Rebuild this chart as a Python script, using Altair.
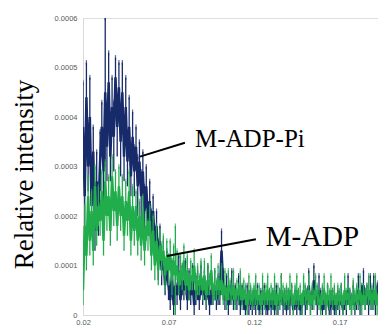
import altair as alt
import pandas as pd

# x positions (scattering vector), step 0.001 from 0.020 to 0.195
x_start = 0.020
x_step = 0.001

# values in units of 1e-5
adp_pi = [38, 24, 44, 30, 40, 22, 33, 17, 27, 21,
          31, 38, 29, 45, 34, 47, 32, 42, 36, 48,
          38, 46, 35, 45, 32, 42, 31, 38, 28, 36,
          29, 34, 26, 31, 24, 29, 21, 26, 19, 23,
          17, 21, 14, 18, 11, 15, 9, 12, 6, 10,
          6, 3, 8, 2, 6, 4, 9, 3, 7, 5,
          8, 3, 6, 4, 7, 2, 5, 6, 3, 7,
          4, 6, 3, 7, 2, 5, 4, 6, 3, 5,
          4, 13, 6, 3, 5, 2, 4, 6, 3, 4,
          3, 5, 2, 4, 3, 1, 4, 2, 3, 2,
          3, 2, 4, 1, 3, 2, 4, 2, 1, 3,
          2, 3, 1, 4, 2, 3, 5, 2, 3, 1,
          3, 2, 4, 1, 3, 2, 3, 1, 2, 4,
          2, 3, 6, 2, 3, 7, 4, 2, 5, 3,
          1, 3, 2, 4, 1, 2, 3, 1, 2, 3,
          2, 4, 1, 3, 2, 5, 3, 2, 4, 2,
          3, 5, 2, 4, 6, 3, 4, 2, 5, 3,
          5, 2, 4, 7, 2, 3]
adp_pi_err = [9, 6, 7, 5, 8, 6, 5, 4, 6, 5,
              6, 5, 6, 15, 7, 6, 5, 6, 7, 4,
              6, 5, 7, 6, 5, 6, 5, 6, 4, 5,
              5, 4, 6, 4, 5, 4, 5, 4, 3, 4,
              4, 3, 4, 3, 4, 3, 3, 3, 2, 3,
              3, 2, 3, 2, 3, 2, 3, 2, 3, 2,
              3, 2, 3, 2, 3, 2, 3, 3, 2, 3,
              2, 3, 2, 3, 2, 3, 2, 3, 2, 3,
              2, 4, 3, 2, 3, 2, 2, 3, 2, 2,
              2, 3, 2, 2, 2, 1, 2, 2, 2, 2,
              2, 2, 2, 1, 2, 2, 2, 2, 1, 2,
              2, 2, 1, 2, 2, 2, 3, 2, 2, 1,
              2, 2, 2, 1, 2, 2, 2, 1, 2, 2,
              2, 2, 3, 2, 2, 3, 2, 2, 3, 2,
              1, 2, 2, 2, 1, 2, 2, 1, 2, 2,
              2, 2, 1, 2, 2, 3, 2, 2, 2, 2,
              2, 3, 2, 2, 3, 2, 2, 2, 3, 2,
              3, 2, 2, 4, 2, 2]

adp = [5, 18, 12, 24, 15, 21, 13, 26, 17, 22,
       19, 25, 15, 27, 20, 24, 17, 28, 21, 25,
       18, 26, 20, 24, 16, 23, 19, 25, 15, 22,
       17, 22, 15, 20, 14, 21, 13, 18, 16, 19,
       12, 17, 10, 15, 9, 14, 11, 13, 8, 12,
       9, 12, 7, 11, 8, 10, 6, 9, 7, 11,
       6, 9, 5, 8, 7, 10, 5, 7, 6, 8,
       5, 8, 4, 7, 6, 9, 4, 6, 5, 7,
       5, 7, 4, 6, 3, 6, 5, 4, 6, 3,
       5, 4, 6, 3, 5, 4, 2, 5, 4, 3,
       4, 5, 3, 4, 2, 5, 3, 4, 5, 3,
       4, 3, 5, 2, 4, 3, 5, 4, 3, 4,
       3, 5, 4, 2, 4, 5, 3, 4, 2, 5,
       4, 3, 5, 2, 4, 3, 5, 4, 3, 2,
       4, 5, 2, 4, 3, 5, 3, 4, 2, 4,
       3, 4, 2, 5, 3, 4, 3, 2, 4, 3,
       4, 3, 5, 2, 4, 3, 4, 5, 3, 4,
       3, 5, 2, 4, 3, 4]
adp_err = [3, 4, 3, 4, 3, 4, 3, 4, 3, 4,
           3, 4, 3, 4, 3, 4, 3, 4, 3, 4,
           3, 4, 3, 4, 3, 4, 3, 4, 3, 4,
           3, 3, 3, 3, 3, 3, 3, 3, 3, 3,
           3, 3, 3, 3, 3, 3, 3, 3, 3, 3,
           3, 3, 3, 3, 10, 3, 2, 3, 2, 3,
           2, 3, 2, 3, 2, 3, 2, 3, 2, 3,
           2, 3, 2, 3, 2, 3, 2, 3, 2, 3,
           2, 3, 2, 3, 2, 3, 2, 2, 3, 2,
           2, 2, 3, 2, 2, 2, 2, 3, 2, 2,
           2, 3, 2, 2, 2, 3, 2, 2, 3, 2,
           2, 2, 3, 2, 2, 2, 3, 2, 2, 2,
           2, 3, 2, 2, 2, 3, 2, 2, 2, 3,
           2, 2, 3, 2, 2, 2, 3, 2, 2, 2,
           2, 3, 2, 2, 2, 3, 2, 2, 2, 2,
           2, 2, 2, 3, 2, 2, 2, 2, 3, 2,
           2, 2, 3, 2, 2, 2, 2, 3, 2, 2,
           2, 3, 2, 2, 2, 3]

series_names = ["M-ADP-Pi", "M-ADP"]
series_colors = ["#172b6b", "#22ad4c"]

x_ticks = [0.02, 0.07, 0.12, 0.17]
y_ticks = [0, 0.0001, 0.0002, 0.0003, 0.0004, 0.0005, 0.0006]

# annotation labels and leader lines (data coordinates)
label_text = ["M-ADP-Pi", "M-ADP"]
label_x = [0.0855, 0.1268]
label_y = [0.00034, 0.000139]
leader_x1 = [0.0533, 0.0691]
leader_y1 = [0.00032, 0.000119]
leader_x2 = [0.0796, 0.1211]
leader_y2 = [0.000348, 0.000153]

scale = 1e-5
rows = []
for name, vals, errs in [(series_names[0], adp_pi, adp_pi_err), (series_names[1], adp, adp_err)]:
    for i, (v, e) in enumerate(zip(vals, errs)):
        x = round(x_start + i * x_step, 4)
        rows.append({"series": name, "x": x, "y": v * scale,
                     "lo": max(v - e, 0) * scale, "hi": (v + e) * scale})
df = pd.DataFrame(rows)

xs = alt.Scale(domain=[0.02, 0.1925], nice=False, zero=False)
ys = alt.Scale(domain=[0, 0.0006], nice=False)

x_axis = alt.Axis(values=x_ticks, format=".2f", title=None, ticks=False, grid=False,
                  labelFlush=False, labelOverlap=False,
                  domainColor="#d9d9d9", labelColor="#595959", labelFont="Liberation Sans",
                  labelFontSize=7.5, labelPadding=3)
y_axis = alt.Axis(values=y_ticks, title="Relative intensity", ticks=False, grid=False,
                  labelFlush=False, labelOverlap=False,
                  labelExpr="datum.value == 0 ? '0' : format(datum.value, '.4f')",
                  domainColor="#d9d9d9", labelColor="#595959", labelFont="Liberation Sans",
                  labelFontSize=7.5, labelPadding=6,
                  titleFont="Liberation Serif", titleFontSize=27, titleFontWeight="normal",
                  titleColor="#000000", titleAngle=-90, titleX=-51, titleY=156,
                  titleAlign="center", titleBaseline="alphabetic")

layers = []
for name, col in zip(series_names, series_colors):
    sub = alt.Chart(df).transform_filter(alt.datum.series == name)
    rule = sub.mark_rule(color=col, strokeWidth=1.3, clip=True).encode(
        x=alt.X("x:Q", scale=xs, axis=x_axis), y=alt.Y("lo:Q", scale=ys, axis=y_axis), y2="hi:Q")
    cap = sub.mark_tick(color=col, size=5, thickness=1.2, orient="vertical", clip=True).encode(
        x=alt.X("x:Q", scale=xs), y=alt.Y("hi:Q", scale=ys))
    line = sub.mark_line(color=col, strokeWidth=2.5, clip=True).encode(
        x=alt.X("x:Q", scale=xs), y=alt.Y("y:Q", scale=ys))
    layers += [rule, cap, line]

ann = pd.DataFrame({"text": label_text, "x": label_x, "y": label_y,
                    "x1": leader_x1, "y1": leader_y1, "x2": leader_x2, "y2": leader_y2})
leaders = alt.Chart(ann).mark_rule(color="black", strokeWidth=2).encode(
    x=alt.X("x1:Q", scale=xs), y=alt.Y("y1:Q", scale=ys), x2="x2:Q", y2="y2:Q")
txt1 = alt.Chart(ann.iloc[[0]]).mark_text(font="Liberation Serif", fontSize=25, align="left",
                                          baseline="alphabetic", color="black").encode(
    x=alt.X("x:Q", scale=xs), y=alt.Y("y:Q", scale=ys), text="text:N")
txt2 = alt.Chart(ann.iloc[[1]]).mark_text(font="Liberation Serif", fontSize=29, align="left",
                                          baseline="alphabetic", color="black").encode(
    x=alt.X("x:Q", scale=xs), y=alt.Y("y:Q", scale=ys), text="text:N")

chart = alt.layer(*layers, leaders, txt1, txt2).properties(
    width=295, height=297,
    autosize=alt.AutoSizeParams(type="none"),
    padding={"left": 75, "top": 10, "right": 0, "bottom": 10},
).configure_view(stroke=None).configure(background="white")

chart.save("out.html", embed_options={"renderer": "svg", "actions": False})
